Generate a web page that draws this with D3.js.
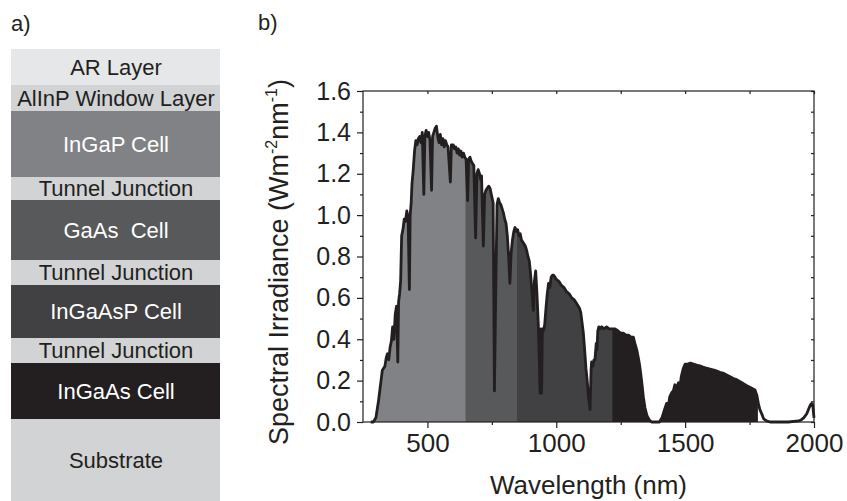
<!DOCTYPE html>
<html>
<head>
<meta charset="utf-8">
<script src="https://cdn.jsdelivr.net/npm/d3@7"></script>
<style>
  body { margin: 0; background: #fff; }
  svg { display: block; font-family: "Liberation Sans", Arial, sans-serif; }
</style>
</head>
<body>
<div id="main"></div>
<script>
// layer stack (panel a), thickness in relative units
var layerNames = ['AR Layer', 'AlInP Window Layer', 'InGaP Cell', 'Tunnel Junction', 'GaAs  Cell',
    'Tunnel Junction', 'InGaAsP Cell', 'Tunnel Junction', 'InGaAs Cell', 'Substrate'];
var layerThickness = [36, 26, 66, 23, 60, 25, 53, 25, 56, 82];
var layerColors = ['#e6e7e8', '#d1d3d4', '#808285', '#d1d3d4', '#58595b',
    '#d1d3d4', '#414042', '#d1d3d4', '#231f20', '#d1d3d4'];
var layerTextColors = ['#231f20', '#231f20', '#ffffff', '#231f20', '#ffffff',
    '#231f20', '#ffffff', '#231f20', '#ffffff', '#231f20'];

// spectrum (panel b)
var wavelength = [
    280, 290, 300, 305, 310, 315, 320, 325, 330, 335,
    340, 345, 350, 355, 360, 365, 370, 375, 380, 383,
    385, 388, 392, 396, 400, 405, 410, 415, 420, 425,
    430, 433, 437, 440, 445, 450, 455, 460, 465, 470,
    475, 480, 486, 490, 495, 500, 505, 510, 516, 520,
    525, 530, 535, 540, 545, 550, 555, 560, 565, 570,
    575, 580, 589, 593, 600, 605, 610, 615, 620, 625,
    630, 635, 640, 645, 650, 656, 660, 665, 670, 675,
    680, 687, 692, 697, 702, 707, 710, 717, 722, 727,
    732, 738, 743, 748, 755, 760, 765, 770, 775, 780,
    785, 790, 795, 800, 805, 810, 815, 820, 825, 830,
    835, 840, 845, 850, 855, 860, 865, 870, 875, 880,
    885, 890, 895, 900, 905, 911, 915, 920, 925, 930,
    934, 937, 940, 943, 946, 950, 955, 960, 965, 970,
    975, 980, 985, 990, 1000, 1010, 1020, 1030, 1040, 1050,
    1060, 1070, 1080, 1090, 1095, 1100, 1105, 1110, 1115, 1120,
    1125, 1131, 1135, 1137, 1142, 1146, 1150, 1155, 1158, 1161,
    1165, 1170, 1176, 1185, 1195, 1205, 1215, 1228, 1240, 1250,
    1260, 1270, 1280, 1290, 1299, 1305, 1312, 1320, 1325, 1331,
    1338, 1344, 1352, 1361, 1370, 1400, 1410, 1415, 1420, 1428,
    1435, 1440, 1447, 1454, 1460, 1465, 1474, 1480, 1485, 1493,
    1500, 1510, 1520, 1532, 1545, 1560, 1570, 1583, 1600, 1615,
    1635, 1650, 1665, 1687, 1700, 1720, 1739, 1755, 1771, 1778,
    1784, 1790, 1797, 1805, 1816, 1830, 1900, 1940, 1950, 1960,
    1972, 1980, 1987, 1991, 1995, 2000
];
var irradiance = [
    0, 0, 0.02, 0.06, 0.10, 0.15, 0.20, 0.25, 0.26, 0.27,
    0.31, 0.33, 0.30, 0.36, 0.39, 0.46, 0.40, 0.52, 0.56, 0.40,
    0.29, 0.58, 0.62, 0.68, 0.90, 0.93, 0.98, 0.97, 1.02, 0.99,
    0.64, 1.00, 1.06, 1.15, 1.22, 1.31, 1.36, 1.34, 1.37, 1.38,
    1.35, 1.40, 1.10, 1.38, 1.41, 1.38, 1.40, 1.36, 1.12, 1.38,
    1.40, 1.42, 1.43, 1.38, 1.35, 1.39, 1.34, 1.37, 1.33, 1.36,
    1.34, 1.33, 1.16, 1.34, 1.34, 1.32, 1.33, 1.30, 1.32, 1.29,
    1.31, 1.28, 1.30, 1.28, 1.27, 1.07, 1.27, 1.28, 1.26, 1.25,
    1.24, 0.89, 1.20, 1.22, 1.20, 1.17, 1.19, 0.85, 1.10, 1.12,
    1.13, 1.14, 1.13, 1.10, 1.06, 0.15, 0.62, 1.05, 1.08, 1.06,
    1.05, 1.03, 1.01, 0.98, 0.96, 0.90, 0.80, 0.67, 0.82, 0.88,
    0.92, 0.94, 0.92, 0.93, 0.90, 0.91, 0.88, 0.87, 0.86, 0.85,
    0.83, 0.80, 0.78, 0.72, 0.64, 0.54, 0.68, 0.73, 0.62, 0.48,
    0.30, 0.14, 0.45, 0.14, 0.45, 0.44, 0.47, 0.55, 0.62, 0.67,
    0.65, 0.70, 0.71, 0.71, 0.69, 0.68, 0.66, 0.65, 0.63, 0.62,
    0.60, 0.59, 0.57, 0.55, 0.53, 0.48, 0.43, 0.35, 0.26, 0.20,
    0.12, 0.06, 0.25, 0.29, 0.27, 0.30, 0.30, 0.38, 0.35, 0.44,
    0.46, 0.45, 0.46, 0.45, 0.46, 0.45, 0.45, 0.45, 0.44, 0.43,
    0.43, 0.42, 0.42, 0.41, 0.41, 0.38, 0.35, 0.30, 0.26, 0.20,
    0.12, 0.07, 0.03, 0.01, 0, 0, 0.02, 0.04, 0.06, 0.09,
    0.08, 0.12, 0.14, 0.15, 0.18, 0.16, 0.19, 0.17, 0.22, 0.26,
    0.28, 0.28, 0.285, 0.28, 0.275, 0.27, 0.265, 0.26, 0.255, 0.25,
    0.24, 0.235, 0.225, 0.21, 0.205, 0.19, 0.175, 0.165, 0.155, 0.13,
    0.09, 0.06, 0.04, 0.015, 0.005, 0, 0, 0.005, 0.01, 0.02,
    0.04, 0.065, 0.085, 0.09, 0.085, 0.02
];

// absorption bands of the sub-cells
var bandEdges = [280, 650, 850, 1220, 1780];
var bandColors = ['#808285', '#58595b', '#414042', '#231f20'];

var xTicks = [500, 1000, 1500, 2000];
var xMinorTicks = [750, 1250, 1750];
var yTicks = [0, 0.2, 0.4, 0.6, 0.8, 1.0, 1.2, 1.4, 1.6];
var yMinorTicks = [0.1, 0.3, 0.5, 0.7, 0.9, 1.1, 1.3, 1.5];

var W = 847, H = 501;
var ink = '#231f20';

var svg = d3.select('#main').append('svg').attr('width', W).attr('height', H);

// ---------- panel a ----------
svg.append('text').attr('x', 11).attr('y', 31).attr('font-size', 22).attr('fill', ink).text('a)');

var cum = [0];
layerThickness.forEach(function (t, i) { cum.push(cum[i] + t); });
var ly = d3.scaleLinear().domain([0, d3.sum(layerThickness)]).range([49, 501]);

var layers = svg.append('g').selectAll('g')
    .data(layerNames)
    .enter()
    .append('g');

layers.append('rect')
    .attr('x', 11)
    .attr('width', 209)
    .attr('y', (d, i) => ly(cum[i]))
    .attr('height', (d, i) => ly(cum[i + 1]) - ly(cum[i]))
    .attr('fill', (d, i) => layerColors[i]);

layers.append('text')
    .attr('x', 116)
    .attr('y', (d, i) => (ly(cum[i]) + ly(cum[i + 1])) / 2)
    .attr('dy', '0.36em')
    .attr('text-anchor', 'middle')
    .attr('font-size', 22)
    .style('white-space', 'pre')
    .attr('fill', (d, i) => layerTextColors[i])
    .text(d => d);

// ---------- panel b ----------
svg.append('text').attr('x', 258).attr('y', 30).attr('font-size', 22).attr('fill', ink).text('b)');

var x = d3.scaleLinear().domain([250, 2000]).range([363, 814]);
var y = d3.scaleLinear().domain([0, 1.6]).range([422, 91]);

var spectrum = wavelength.map((w, i) => [w, irradiance[i]]);

var defs = svg.append('defs');
bandColors.forEach(function (c, i) {
    defs.append('clipPath').attr('id', 'band' + i)
        .append('rect')
        .attr('x', x(bandEdges[i]) - 0.6)
        .attr('width', x(bandEdges[i + 1]) - x(bandEdges[i]) + 1.2)
        .attr('y', y(1.6))
        .attr('height', y(0) - y(1.6));
});

var area = d3.area()
    .x(d => x(d[0]))
    .y0(y(0))
    .y1(d => y(d[1]));

svg.append('g').selectAll('path')
    .data(bandColors)
    .enter()
    .append('path')
    .attr('d', area(spectrum))
    .attr('clip-path', (d, i) => 'url(#band' + i + ')')
    .attr('fill', d => d);

var line = d3.line()
    .x(d => x(d[0]))
    .y(d => y(d[1]));

svg.append('path')
    .attr('d', line(spectrum))
    .attr('fill', 'none')
    .attr('stroke', ink)
    .attr('stroke-width', 2.8)
    .attr('stroke-linejoin', 'round');

// frame
svg.append('rect')
    .attr('x', x(250)).attr('y', y(1.6))
    .attr('width', x(2000) - x(250)).attr('height', y(0) - y(1.6))
    .attr('fill', 'none').attr('stroke', ink).attr('stroke-width', 1.2);

function styleAxis(g, size) {
    g.select('.domain').remove();
    g.selectAll('.tick line').attr('stroke', ink).attr('stroke-width', 1.2);
    g.selectAll('.tick text').attr('fill', ink).attr('font-size', size)
        .attr('font-family', '"Liberation Sans", Arial, sans-serif');
}

svg.append('g').attr('transform', 'translate(0,' + y(0) + ')')
    .call(d3.axisBottom(x).tickValues(xTicks).tickSize(6).tickPadding(6).tickFormat(d3.format('d')))
    .call(g => styleAxis(g, 26));
svg.append('g').attr('transform', 'translate(0,' + y(0) + ')')
    .call(d3.axisBottom(x).tickValues(xMinorTicks).tickSize(3).tickFormat(''))
    .call(g => styleAxis(g, 0));
svg.append('g').attr('transform', 'translate(0,' + y(1.6) + ')')
    .call(d3.axisTop(x).tickValues(xTicks.concat(xMinorTicks)).tickSize(-3).tickFormat(''))
    .call(g => styleAxis(g, 0));

svg.append('g').attr('transform', 'translate(' + x(250) + ',0)')
    .call(d3.axisLeft(y).tickValues(yTicks).tickSize(6).tickPadding(6).tickFormat(d3.format('.1f')))
    .call(g => styleAxis(g, 25));
svg.append('g').attr('transform', 'translate(' + x(250) + ',0)')
    .call(d3.axisLeft(y).tickValues(yMinorTicks).tickSize(3).tickFormat(''))
    .call(g => styleAxis(g, 0));
svg.append('g').attr('transform', 'translate(' + x(2000) + ',0)')
    .call(d3.axisRight(y).tickValues(yTicks.concat(yMinorTicks)).tickSize(-3).tickFormat(''))
    .call(g => styleAxis(g, 0));

// axis titles
svg.append('text')
    .attr('x', (x(250) + x(2000)) / 2)
    .attr('y', 494)
    .attr('text-anchor', 'middle')
    .attr('font-size', 26)
    .attr('fill', ink)
    .text('Wavelength (nm)');

var yt = svg.append('text')
    .attr('transform', 'translate(288,262) rotate(-90)')
    .attr('text-anchor', 'middle')
    .attr('font-size', 27)
    .attr('fill', ink);
yt.append('tspan').text('Spectral Irradiance (Wm');
yt.append('tspan').attr('font-size', 16).attr('dy', -11).text('-2');
yt.append('tspan').attr('dy', 11).text('nm');
yt.append('tspan').attr('font-size', 16).attr('dy', -11).text('-1');
yt.append('tspan').attr('dy', 11).text(')');
</script>
</body>
</html>
